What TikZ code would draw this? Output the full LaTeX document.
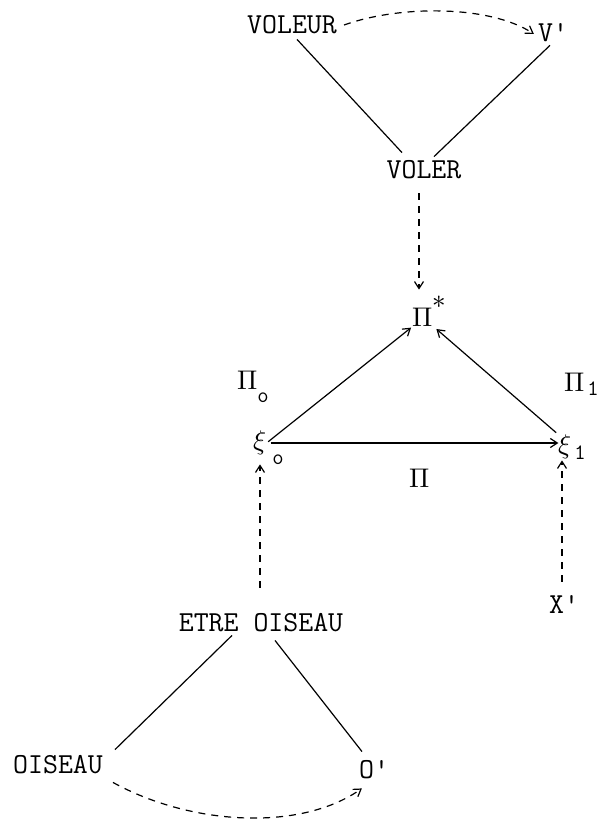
\documentclass[tikz,border=0pt]{standalone}
\usepackage{fontspec}
\usepackage{unicode-math}
\usetikzlibrary{arrows.meta}
\begin{document}
\begin{tikzpicture}[x=1pt,y=-1pt,
  lbl/.style={inner sep=0pt,font=\ttfamily\fontsize{29}{33}\selectfont},
  gr/.style={inner sep=0pt,font=\fontsize{27}{32}\selectfont},
  sub/.style={inner sep=0pt,font=\ttfamily\fontsize{22}{26}\selectfont},
  ln/.style={line width=1.2pt},
  arr/.style={line width=1.2pt,-{Straight Barb[length=7pt,width=9pt]}},
  darr/.style={line width=1.2pt,dash pattern=on 7pt off 6pt,-{Straight Barb[length=7pt,width=9pt]}}]
\useasboundingbox (0,0) rectangle (601,821);
% nodes
\node[lbl] (voleur) at (292,25) {VOLEUR};
\node[lbl] (vp) at (553,33) {V\symbol{39}};
\node[lbl] (voler) at (424,170) {VOLER};
\node[gr] (pistar) at (423,317) {$\Pi$};
\node[gr] (star) at (439,302) {$\ast$};
\node[gr] (p0) at (248,380) {$\Pi$};
\node[sub] (p0s) at (263,398) {o};
\node[gr] (p1) at (575,382) {$\Pi$};
\node[sub] (p1s) at (593,389) {1};
\node[gr] (xi0) at (260,443) {$\xi$};
\node[sub] (xi0s) at (278,460) {o};
\node[gr] (xi1) at (565,447) {$\xi$};
\node[sub] (xi1s) at (580,453) {1};
\node[gr] (pim) at (420,478) {$\Pi$};
\node[lbl] (etre) at (261,623) {ETRE OISEAU};
\node[lbl] (xp) at (564,605) {X\symbol{39}};
\node[lbl] (oiseau) at (58,765) {OISEAU};
\node[lbl] (op) at (374,770) {O\symbol{39}};
% top triangle
\draw[ln] ([xshift=5pt,yshift=-5pt]voleur.south) -- ([xshift=-22pt,yshift=8pt]voler.north);
\draw[ln] ([xshift=-3pt,yshift=-3pt]vp.south) -- ([xshift=10pt,yshift=4pt]voler.north);
\draw[darr] ([xshift=7pt]voleur.east) .. controls (400,5) and (490,5) .. ([xshift=-4pt,yshift=-1pt]vp.west);
% VOLER to Pi*
\draw[darr,shorten <=14pt,shorten >=18pt] ([xshift=-5pt]voler.south) -- ([xshift=-4pt]pistar.north);
% middle triangle
\draw[arr,shorten <=2pt,shorten >=2pt] (xi0.east) -- (pistar.south west);
\draw[arr,shorten <=3pt,shorten >=4pt] (xi1.north west) -- (pistar.south east);
\draw[arr,shorten <=4pt] (xi0.east) -- (xi0.east -| xi1.west);
% dashed arrows up
\draw[darr,shorten <=26pt,shorten >=9pt] (xi0.south |- etre.north) -- (xi0.south);
\draw[darr,shorten <=14pt,shorten >=1pt] ([xshift=-2pt]xp.north) -- ([xshift=-3pt]xi1.south);
% bottom triangle
\draw[ln] ([xshift=-29pt,yshift=-3pt]etre.south) -- ([xshift=12pt,yshift=6pt]oiseau.north east);
\draw[ln] ([xshift=14pt,yshift=-8pt]etre.south) -- ([xshift=-12pt,yshift=9pt]op.north);
\draw[darr] ([shift={(10pt,-8pt)}]oiseau.south east) .. controls (190,825) and (300,832) .. ([shift={(3pt,-9pt)}]op.south west);
\end{tikzpicture}
\end{document}
